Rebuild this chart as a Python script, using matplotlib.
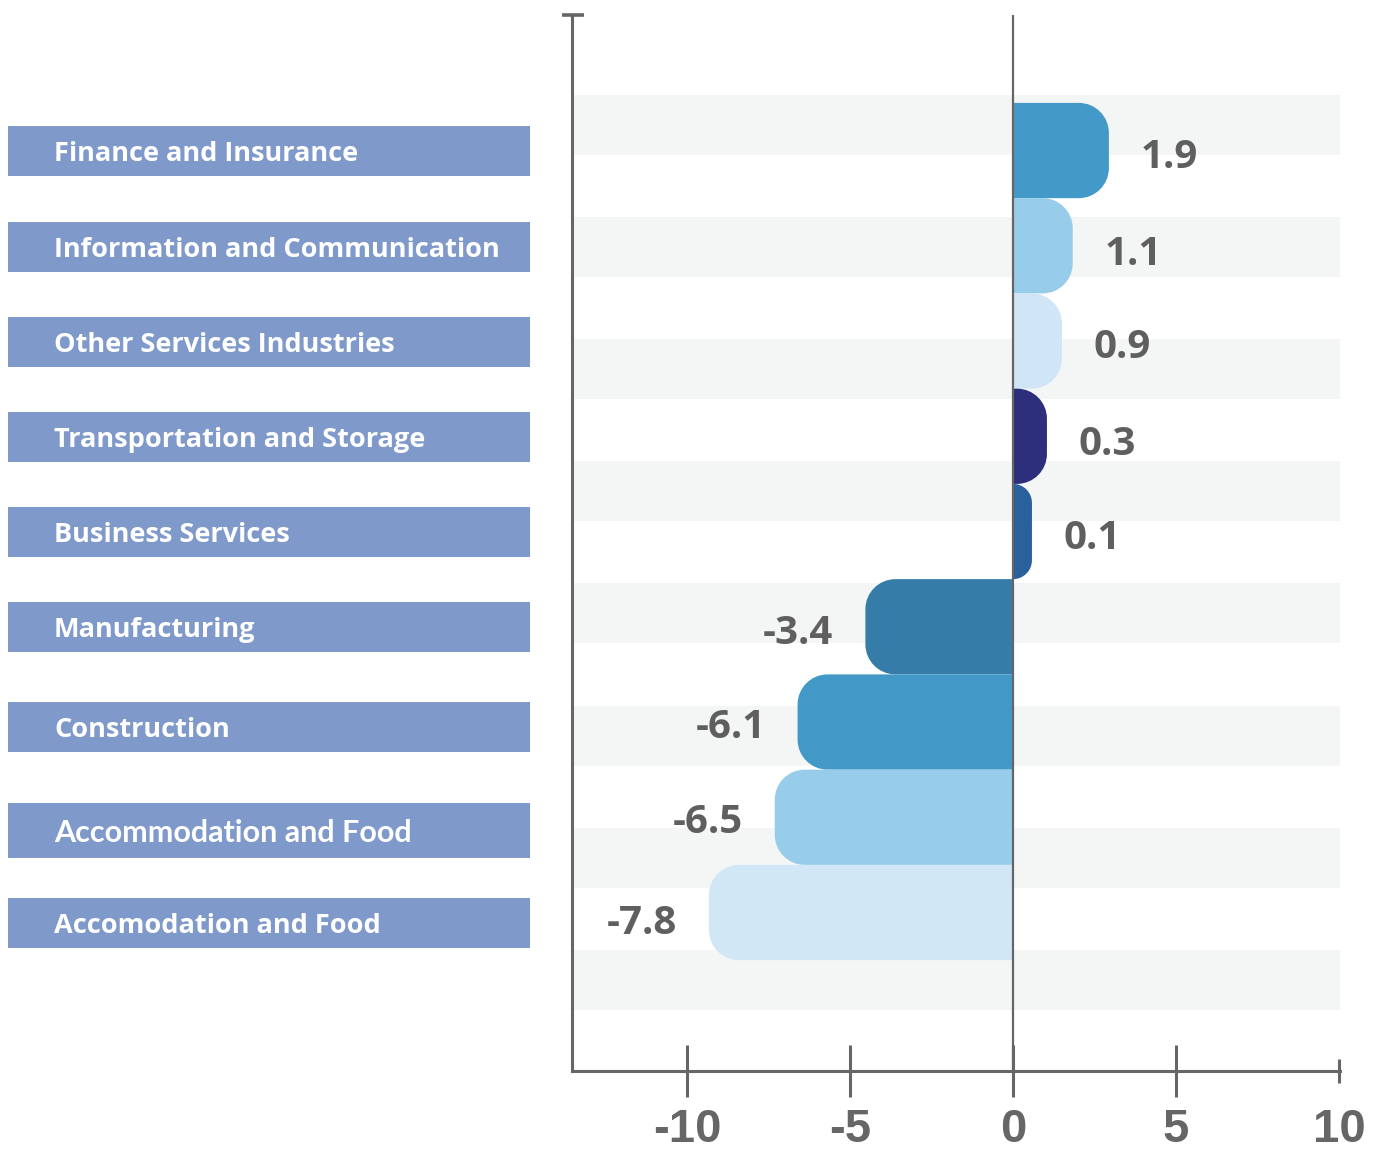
import matplotlib
matplotlib.use("Agg")
import matplotlib.pyplot as plt
import numpy as np
from matplotlib.path import Path
from matplotlib.patches import PathPatch, Rectangle

# data
categories = [
    "Finance and Insurance",
    "Information and Communication",
    "Other Services Industries",
    "Transportation and Storage",
    "Business Services",
    "Manufacturing",
    "Construction",
    "Accommodation and Food",
    "Accomodation and Food",
]
value_labels = ["1.9", "1.1", "0.9", "0.3", "0.1", "-3.4", "-6.1", "-6.5", "-7.8"]
# drawn bar lengths as they appear on the axis
bar_lengths = [2.94, 1.83, 1.50, 1.04, 0.58, -4.53, -6.61, -7.31, -9.33]
xticks = [-10, -5, 0, 5, 10]
xtick_labels = ["-10", "-5", "0", "5", "10"]

bar_colors = ["#4399c8", "#97cdea", "#d0e6f6", "#2e2f7c", "#2a609c",
              "#357ca8", "#4298c7", "#97cdea", "#d2e7f6"]
box_color = "#7f9aca"
axis_color = "#666666"
text_color = "#5f5f5f"
stripe_color = "#f4f5f5"

W, H = 1380, 1164
fig = plt.figure(figsize=(W / 100, H / 100), dpi=100)
ax = fig.add_axes([572 / W, 1 - 1071 / H, 768 / W, 1056 / H])
ax.set_xlim(-13.53, 10.03)
ax.set_ylim(9.664, -1.423)
ax.set_facecolor("white")

def px_to_y(py):
    return ax.transData.inverted().transform((0, H - py))[1]

def y_to_px(y):
    return H - ax.transData.transform((0, y))[1]

px_per_x = ax.transData.transform((1, 0))[0] - ax.transData.transform((0, 0))[0]
px_per_y = abs(ax.transData.transform((0, 1))[1] - ax.transData.transform((0, 0))[1])

# background stripes
for k in range(8):
    top = 95 + 122.1 * k
    ax.axhspan(px_to_y(top), px_to_y(top + 60), color=stripe_color, lw=0, zorder=0)


def rounded_bar(ax, yc, w, h, color, r_px=30):
    s = 1 if w >= 0 else -1
    aw = abs(w)
    r = min(r_px, aw * px_per_x)
    rx = r / px_per_x
    ry = r / px_per_y
    k = 0.5523
    y0, y1 = yc - h / 2, yc + h / 2
    verts = [
        (0, y0),
        (s * (aw - rx), y0),
        (s * (aw - rx + k * rx), y0), (s * aw, y0 + ry - k * ry), (s * aw, y0 + ry),
        (s * aw, y1 - ry),
        (s * aw, y1 - ry + k * ry), (s * (aw - rx + k * rx), y1), (s * (aw - rx), y1),
        (0, y1),
        (0, y0),
    ]
    codes = [Path.MOVETO, Path.LINETO,
             Path.CURVE4, Path.CURVE4, Path.CURVE4,
             Path.LINETO,
             Path.CURVE4, Path.CURVE4, Path.CURVE4,
             Path.LINETO, Path.CLOSEPOLY]
    ax.add_patch(PathPatch(Path(verts, codes), facecolor=color, edgecolor="none", zorder=2))


label_drop = [5, 6, 5, 6, 5, 5, 4, 4, 8]  # small vertical nudges of the value texts (pt)
for i, (w, c) in enumerate(zip(bar_lengths, bar_colors)):
    rounded_bar(ax, i, w, 1.0, c)
    s = 1 if w >= 0 else -1
    ax.annotate(value_labels[i], xy=(w, i), xytext=(s * 23, -label_drop[i]),
                textcoords="offset points", ha="left" if s > 0 else "right",
                va="center", fontsize=29, fontweight="bold", color=text_color,
                family=["Open Sans", "DejaVu Sans"], zorder=3)

# axes lines
ax.axvline(0, color=axis_color, lw=1.6, zorder=4)
for side in ["top", "right"]:
    ax.spines[side].set_visible(False)
for side in ["left", "bottom"]:
    ax.spines[side].set_color(axis_color)
    ax.spines[side].set_linewidth(2.2)
ax.plot([-13.85, -13.15], [-1.423, -1.423], color=axis_color, lw=2.6,
        clip_on=False, solid_capstyle="butt", zorder=5)

ax.set_yticks([])
ax.set_xticks(xticks)
ax.set_xticklabels(xtick_labels)
ax.tick_params(axis="x", direction="inout", length=38, width=2.2, color=axis_color,
               pad=8, labelsize=34, labelcolor=axis_color)
for lab in ax.get_xticklabels():
    lab.set_family(["Liberation Sans Narrow", "Liberation Sans", "DejaVu Sans"])
    lab.set_fontweight("bold")
ax.xaxis.get_major_ticks()[-1].tick1line.set_markersize(17)

# category label boxes on the left
box_nudge = [0, 1, 1, 1, 0, 0, 5, 13, 10]
box_height = [50, 50, 50, 50, 50, 50, 50, 55, 50]
for i, name in enumerate(categories):
    cy = y_to_px(i) + box_nudge[i]
    bh = box_height[i]
    fig.patches.append(Rectangle((8 / W, 1 - (cy + bh / 2) / H), 522 / W, bh / H,
                                 transform=fig.transFigure, facecolor=box_color,
                                 edgecolor="none", zorder=1))
    fam = ["Lato", "DejaVu Sans"] if name == "Accommodation and Food" else ["Open Sans", "DejaVu Sans"]
    size = 22 if name == "Accommodation and Food" else 19.5
    fig.text(54 / W, 1 - cy / H, name, ha="left", va="center_baseline",
             fontsize=size, fontweight="bold", color="white", family=fam)

fig.savefig("out.png", dpi=100, facecolor="white")
